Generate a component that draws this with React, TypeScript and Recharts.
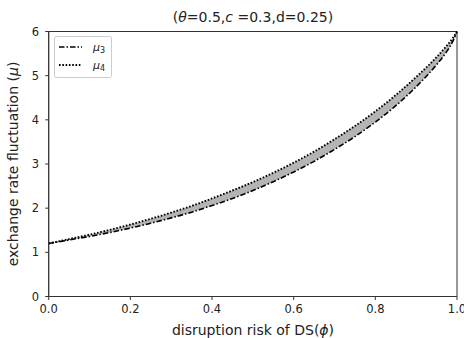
import React from 'react';
import { ComposedChart, Line, Area, XAxis, YAxis, ReferenceArea, Customized } from 'recharts';

const phi = [0, 0.05, 0.1, 0.15, 0.2, 0.25, 0.3, 0.35, 0.4, 0.45, 0.5, 0.55, 0.6, 0.65, 0.7, 0.75, 0.8, 0.85, 0.9, 0.95, 0.975, 0.99, 1.0];
const mu4 = [1.2, 1.3, 1.4, 1.51, 1.63, 1.76, 1.9, 2.05, 2.22, 2.4, 2.59, 2.8, 3.03, 3.28, 3.56, 3.86, 4.19, 4.56, 4.97, 5.42, 5.68, 5.85, 6.0];
const mu3 = [1.2, 1.28, 1.36, 1.45, 1.55, 1.66, 1.78, 1.91, 2.06, 2.22, 2.4, 2.6, 2.82, 3.06, 3.33, 3.62, 3.95, 4.32, 4.75, 5.25, 5.55, 5.78, 6.0];
const xTicks = [0, 0.2, 0.4, 0.6, 0.8, 1.0];
const yTicks = [0, 1, 2, 3, 4, 5, 6];
const seriesNames = ['μ3', 'μ4'];

const data = phi.map((p, i) => ({ phi: p, mu3: mu3[i], mu4: mu4[i], band: [mu3[i], mu4[i]] }));

const FONT = "'DejaVu Sans', sans-serif";
const TXT = '#222';
const DASHDOT = '5.5 2 1.5 2';
const DOTTED = '1.6 1.7';

const LegendBox = () => (
  <g transform="translate(54,36)">
    <rect x={0.5} y={0.5} width={57} height={41} rx={2} fill="#fff" stroke="#ccc" />
    <line x1={5} x2={28} y1={11} y2={11} stroke="#000" strokeWidth={1.5} strokeDasharray={DASHDOT} />
    <text x={39} y={15} fontFamily={FONT} fontSize={11} fill={TXT} fontStyle="italic">
      {seriesNames[0].slice(0, 1)}
      <tspan fontSize={8} dy={2} fontStyle="normal">{seriesNames[0].slice(1)}</tspan>
    </text>
    <line x1={5} x2={28} y1={29} y2={29} stroke="#000" strokeWidth={1.8} strokeDasharray={DOTTED} />
    <text x={39} y={33} fontFamily={FONT} fontSize={11} fill={TXT} fontStyle="italic">
      {seriesNames[1].slice(0, 1)}
      <tspan fontSize={8} dy={2} fontStyle="normal">{seriesNames[1].slice(1)}</tspan>
    </text>
  </g>
);

const Texts = () => (
  <g fontFamily={FONT} fill={TXT}>
    <text x={253} y={22} textAnchor="middle" fontSize={14}>
      (<tspan fontStyle="italic">θ</tspan>=0.5,<tspan fontStyle="italic">c</tspan> =0.3,d=0.25)
    </text>
    <text x={253} y={335} textAnchor="middle" fontSize={14}>
      disruption risk of DS(<tspan fontStyle="italic">ϕ</tspan>)
    </text>
    <text x={0} y={0} textAnchor="middle" fontSize={14} transform="translate(18,164) rotate(-90)">
      exchange rate fluctuation (<tspan fontStyle="italic">μ</tspan>)
    </text>
    <LegendBox />
  </g>
);

export default function App() {
  return (
    <div style={{ position: 'absolute', left: 0, top: 0, width: 464, height: 338, background: '#fff' }}>
      <ComposedChart
        width={464}
        height={338}
        data={data}
        margin={{ top: 31.5, right: 7, bottom: 11.5, left: 8.7 }}
      >
        <XAxis
          dataKey="phi"
          type="number"
          domain={[0, 1]}
          ticks={xTicks}
          tickFormatter={(v: number) => v.toFixed(1)}
          height={30}
          axisLine={{ stroke: '#333', strokeWidth: 1 }}
          tickLine={{ stroke: '#333' }}
          tickSize={3.5}
          tickMargin={5}
          tick={{ fill: TXT, fontSize: 11.5, fontFamily: FONT }}
          interval={0}
        />
        <YAxis
          type="number"
          domain={[0, 6]}
          ticks={yTicks}
          width={40}
          axisLine={{ stroke: '#333', strokeWidth: 1 }}
          tickLine={{ stroke: '#333' }}
          tickSize={3.5}
          tickMargin={6}
          tick={{ fill: TXT, fontSize: 11.5, fontFamily: FONT }}
          interval={0}
        />
        <Area
          type="monotone"
          dataKey="band"
          stroke="none"
          fill="#b4b4b4"
          fillOpacity={1}
          isAnimationActive={false}
          legendType="none"
        />
        <Line
          type="monotone"
          dataKey="mu3"
          name={seriesNames[0]}
          stroke="#000"
          strokeWidth={1.6}
          strokeDasharray={DASHDOT}
          dot={false}
          isAnimationActive={false}
        />
        <Line
          type="monotone"
          dataKey="mu4"
          name={seriesNames[1]}
          stroke="#000"
          strokeWidth={1.9}
          strokeDasharray={DOTTED}
          dot={false}
          isAnimationActive={false}
        />
        <ReferenceArea x1={0} x2={1} y1={0} y2={6} fill="none" stroke="#333" strokeWidth={1} />
        <Customized component={Texts} />
      </ComposedChart>
    </div>
  );
}
